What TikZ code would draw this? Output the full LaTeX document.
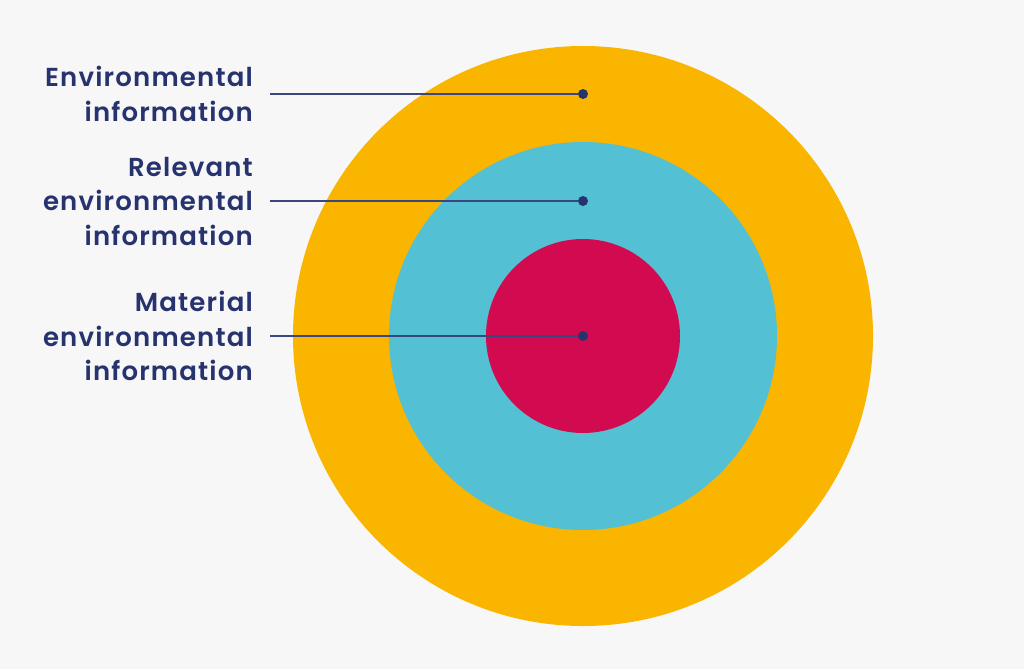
\documentclass[tikz,border=0pt]{standalone}
\usepackage{fontspec}
\setmainfont{Poppins}[BoldFont={Poppins SemiBold}, LetterSpace=4.5]
\definecolor{bg}{HTML}{F7F7F7}
\definecolor{outerc}{HTML}{F9B500}
\definecolor{midc}{HTML}{54C0D4}
\definecolor{innerc}{HTML}{D20A50}
\definecolor{navy}{HTML}{27336E}
\definecolor{linec}{HTML}{3A4680}
\tikzset{
  ring/.style={circle, inner sep=0pt, outer sep=0pt},
  lbl/.style={anchor=east, align=right, text=navy, font=\fontsize{26}{34.5}\selectfont\bfseries, inner sep=0pt},
  dotc/.style={circle, fill=navy, inner sep=0pt, minimum size=10pt},
  leader/.style={draw=linec, line width=1.2pt}
}
\begin{document}
\begin{tikzpicture}[x=1pt,y=-1pt]
\fill[bg] (0,0) rectangle (1024,669);
\useasboundingbox (0,0) rectangle (1024,669);
\node[ring, fill=outerc, minimum size=580pt] (outer) at (583,336) {};
\node[ring, fill=midc, minimum size=388pt] (mid) at (583,336) {};
\node[ring, fill=innerc, minimum size=194pt] (inner) at (583,336) {};
\node[dotc] (d1) at (583,94) {};
\node[dotc] (d2) at (583,201) {};
\node[dotc] (d3) at (583,336) {};
\coordinate (s1) at (270,94);
\coordinate (s2) at (270,201);
\coordinate (s3) at (270,336);
\draw[leader] (s1) -- (d1);
\draw[leader] (s2) -- (d2);
\draw[leader] (s3) -- (d3);
\node[lbl] (t1) at (253,94) {Environmental\\information};
\node[lbl] (t2) at (253,201) {Relevant\\environmental\\information};
\node[lbl] (t3) at (253,336) {Material\\environmental\\information};
\end{tikzpicture}
\end{document}
